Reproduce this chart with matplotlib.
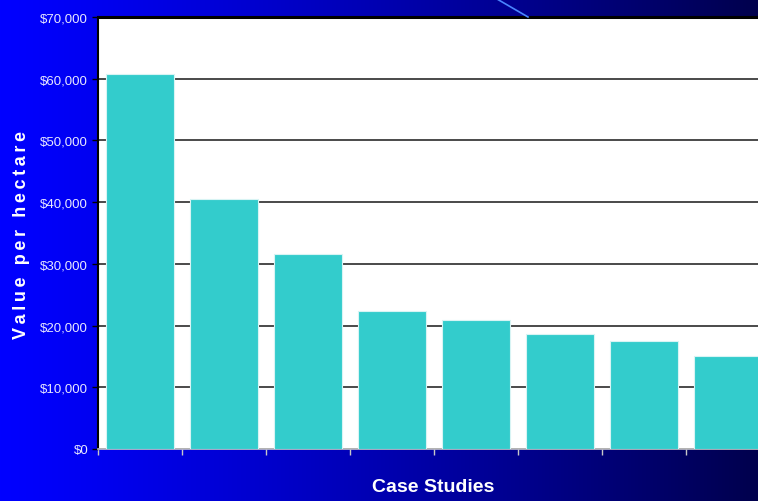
import numpy as np
import matplotlib
matplotlib.use("Agg")
import matplotlib.pyplot as plt
from matplotlib.lines import Line2D

plt.rcParams["font.family"] = ["Liberation Sans", "DejaVu Sans"]

# value per hectare for each case study, highest first
case_studies = ["Case 1", "Case 2", "Case 3", "Case 4",
                "Case 5", "Case 6", "Case 7", "Case 8"]
values = [60800, 40500, 31600, 22400, 20900, 18600, 17450, 15100]
y_ticks = [0, 10000, 20000, 30000, 40000, 50000, 60000, 70000]
y_tick_labels = ["$0", "$10,000", "$20,000", "$30,000",
                 "$40,000", "$50,000", "$60,000", "$70,000"]

W, H = 758, 502
fig = plt.figure(figsize=(W / 100, H / 100), dpi=100)

# blue slide background fading to navy on the right
bg_ax = fig.add_axes([0, 0, 1, 1], zorder=-10)
grad = np.linspace(0, 1, 512)
r = np.zeros_like(grad)
g = np.zeros_like(grad)
b = (255 - 178 * grad ** 1.2) / 255
img = np.dstack([r, g, b])
bg_ax.imshow(img, aspect="auto", extent=[0, 1, 0, 1])
bg_ax.set_axis_off()

# thin decorative line at the top
fig.add_artist(Line2D([497 / W, 528 / W], [1, 1 - 18 / H],
                      color="#4a86ff", lw=1.2))

left, right = 98 / W, 770 / W
bottom, top = (H - 450) / H, (H - 18) / H
ax = fig.add_axes([left, bottom, right - left, top - bottom])
ax.set_facecolor("white")

x = np.arange(len(case_studies)) + 0.5
ax.bar(x, values, width=0.82, color="#33CCCC", edgecolor="#d8f4f4",
       linewidth=0.8, zorder=3)

ax.set_xlim(0, len(case_studies))
ax.set_ylim(0, 70000)
ax.set_yticks(y_ticks)
ax.set_yticklabels(y_tick_labels)
ax.set_xticks(np.arange(len(case_studies) + 1))
ax.set_xticklabels([])

ax.yaxis.grid(True, color="#2b2b2b", lw=1.2, zorder=0)
ax.set_axisbelow(True)

ax.tick_params(axis="y", colors="black", labelcolor="#e8e8ff",
               labelsize=9.5, length=4, width=1, direction="out", pad=3)
ax.tick_params(axis="x", colors="#c8c8c8", length=4, width=1,
               direction="out")

ax.spines["top"].set_color("black")
ax.spines["top"].set_linewidth(2.2)
ax.spines["left"].set_color("black")
ax.spines["left"].set_linewidth(1.5)
ax.spines["bottom"].set_color("#c8c8c8")
ax.spines["bottom"].set_linewidth(1.2)
ax.spines["right"].set_visible(False)

fig.text(433 / W, 1 - 488 / H, "Case Studies", color="white",
         fontsize=14, fontweight="bold", ha="center", va="center")
fig.text(22 / W, 1 - 235 / H, "\u2009".join("Value per hectare"),
         color="white", fontsize=13, fontweight="bold",
         rotation=90, ha="center", va="center")

fig.savefig("out.png", dpi=100)
